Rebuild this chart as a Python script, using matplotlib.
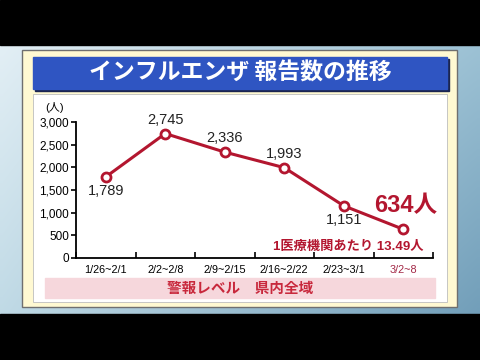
import numpy as np
import matplotlib
matplotlib.use("Agg")
import matplotlib.pyplot as plt
from matplotlib.patches import Rectangle

plt.rcParams['font.family'] = ['Liberation Sans', 'Noto Sans CJK JP', 'DejaVu Sans']

# data
weeks = ["1/26~2/1", "2/2~2/8", "2/9~2/15", "2/16~2/22", "2/23~3/1", "3/2~8"]
reports = [1789, 2745, 2336, 1993, 1151, 634]
label_side = ["below", "above", "above", "above", "below", None]
y_ticks = [0, 500, 1000, 1500, 2000, 2500, 3000]

title = "インフルエンザ 報告数の推移"
band_text = "警報レベル　県内全域"
latest_text = "634人"
per_clinic_text = "1医療機関あたり 13.49人"

W, H = 480, 360
RED = "#b3162f"
JP = ['Noto Sans CJK JP', 'DejaVu Sans']


def px_rect(x0, y0, x1, y1, **kw):
    # rectangle given in pixel coords measured from the top-left
    return Rectangle((x0 / W, 1 - y1 / H), (x1 - x0) / W, (y1 - y0) / H,
                     transform=fig.transFigure, **kw)


fig = plt.figure(figsize=(4.8, 3.6), dpi=100)

# blue gradient background
bg = fig.add_axes([0, 0, 1, 1], zorder=-10)
tl, tr = np.array([0.91, 0.95, 0.97]), np.array([0.64, 0.78, 0.85])
bl, br = np.array([0.73, 0.84, 0.89]), np.array([0.42, 0.60, 0.71])
u = np.linspace(0, 1, 96)[None, :, None]
v = np.linspace(0, 1, 72)[:, None, None]
img = (1 - v) * ((1 - u) * tl + u * tr) + v * ((1 - u) * bl + u * br)
bg.imshow(img, aspect="auto", extent=[0, 1, 0, 1], interpolation="bilinear")
bg.axis("off")

# black letterbox bars
fig.patches.append(px_rect(0, 0, 480, 45, color="black", zorder=-5))
fig.patches.append(px_rect(0, 314, 480, 360, color="black", zorder=-5))

# cream panel and white chart box
fig.patches.append(px_rect(22, 50, 457, 307, facecolor="#fff9d2", edgecolor="#6f6f6f", lw=1.0, zorder=-4))
fig.patches.append(px_rect(33, 94, 447, 302, facecolor="white", edgecolor="#bdbdbd", lw=0.6, zorder=-3))

# title banner
fig.patches.append(px_rect(35, 59, 449, 91, color="#1b2550", zorder=-3))
fig.patches.append(px_rect(33, 57, 447, 89, color="#2f55c2", zorder=-2))
fig.text(240 / W, 1 - 73 / H, title, color="white", fontsize=16.5, fontweight="bold",
         ha="center", va="center", family=JP)

# pink band
fig.patches.append(px_rect(45, 278, 435, 298, color="#f6d7dc", zorder=-2))
fig.text(240 / W, 1 - 288 / H, band_text, color="#c8283c", fontsize=10.5, fontweight="bold",
         ha="center", va="center", family=JP)

fig.text(55 / W, 1 - 107 / H, "(人)", fontsize=8, ha="center", va="center")

ax = fig.add_axes([76 / W, 1 - 258 / H, 357 / W, 136 / H])
ax.patch.set_alpha(0)
x = np.arange(len(weeks))
ax.plot(x, reports, color=RED, lw=2.2, marker="o", ms=6.5, mfc="white", mec=RED, mew=2.0,
        clip_on=False, zorder=3)

for xi, val, side in zip(x, reports, label_side):
    if side is None:
        continue
    dy = 10 if side == "above" else -10
    ax.annotate(f"{val:,}", (xi, val), xytext=(0, dy), textcoords="offset points",
                ha="center", va="center", fontsize=10.5, color="#222222")

ax.annotate(latest_text, (x[-1], reports[-1]), xytext=(2, 24), textcoords="offset pixels",
            ha="center", va="center", fontsize=17, fontweight="bold", color=RED)
ax.annotate(per_clinic_text, (x[-1], reports[-1]), xytext=(-55, -18), textcoords="offset pixels",
            ha="center", va="center", fontsize=9.5, fontweight="bold", color=RED)

ax.set_xlim(-0.5, len(weeks) - 0.5)
ax.set_ylim(0, 3000)
ax.set_yticks(y_ticks)
ax.set_yticklabels([f"{t:,}" for t in y_ticks], fontsize=8.5)
ax.tick_params(axis="y", direction="out", length=3.5, width=1.2, pad=1.5)
ax.set_xticks(x)
ax.set_xticklabels(weeks, fontsize=7.8)
ax.tick_params(axis="x", which="major", length=0, pad=5)
ax.set_xticks(np.arange(len(weeks) + 1) - 0.5, minor=True)
ax.tick_params(axis="x", which="minor", direction="in", length=4, width=1.2)
ax.get_xticklabels()[-1].set_color("#a32846")
for s in ["top", "right"]:
    ax.spines[s].set_visible(False)
for s in ["left", "bottom"]:
    ax.spines[s].set_linewidth(1.3)

fig.savefig("out.png", dpi=100)
